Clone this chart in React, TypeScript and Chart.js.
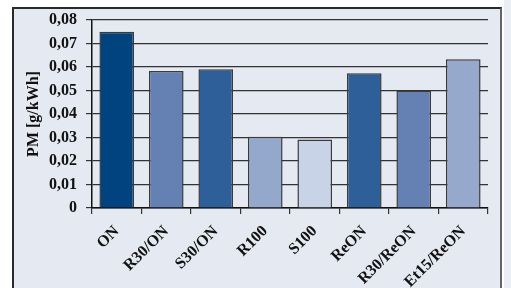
import React, { useEffect, useRef } from "react";
import { Chart, registerables } from "chart.js";

Chart.register(...registerables);

const categories = ["ON", "R30/ON", "S30/ON", "R100", "S100", "ReON", "R30/ReON", "Et15/ReON"];
const pmValues = [0.075, 0.0583, 0.059, 0.0303, 0.0292, 0.0573, 0.05, 0.0633];
const barColors = ["#00437f", "#6581b4", "#2f5f98", "#94a8cc", "#c9d3e7", "#2f5f98", "#6581b4", "#96a9cd"];
const yTitle = "PM [g/kWh]";

export default function App() {
  const ref = useRef<HTMLCanvasElement | null>(null);
  useEffect(() => {
    if (!ref.current) return;
    const font = "'Liberation Serif', 'Times New Roman', serif";
    const chart = new Chart(ref.current, {
      type: "bar",
      data: {
        labels: categories,
        datasets: [
          {
            data: pmValues,
            backgroundColor: barColors,
            borderColor: "#3a3a3a",
            borderWidth: 1.5,
            barPercentage: 0.7,
            categoryPercentage: 1,
          },
        ],
      },
      options: {
        animation: false,
        responsive: false,
        maintainAspectRatio: false,
        layout: { padding: { left: 0, right: 23, top: 20, bottom: 0 } },
        plugins: { legend: { display: false }, tooltip: { enabled: false } },
        scales: {
          x: {
            grid: {
              offset: true,
              drawOnChartArea: true,
              color: (c: any) => (c.index === categories.length ? "#333" : "rgba(0,0,0,0)"),
              tickColor: "#333",
              tickLength: 6,
              lineWidth: 1.2,
            },
            border: { display: true, color: "#111", width: 1.5 },
            ticks: {
              color: "#111",
              font: { family: font, size: 16, weight: "bold" },
              minRotation: 45,
              maxRotation: 45,
              padding: 8,
              autoSkip: false,
            },
            afterFit: (s: any) => {
              s.height = 80;
            },
          },
          y: {
            min: 0,
            max: 0.08,
            ticks: {
              stepSize: 0.01,
              color: "#111",
              padding: 9,
              font: { family: font, size: 16, weight: "bold" },
              callback: (v: any) => (Number(v) === 0 ? "0" : Number(v).toFixed(2).replace(".", ",")),
            },
            grid: { color: "#333", lineWidth: 1.2, tickLength: 6, tickColor: "#333" },
            border: { display: true, color: "#111", width: 1.5 },
            title: {
              display: true,
              text: yTitle,
              color: "#111",
              font: { family: font, size: 16, weight: "bold" },
              padding: { top: 24, bottom: 0 },
            },
            afterFit: (s: any) => {
              s.width = 92;
            },
          },
        },
      },
    });
    return () => chart.destroy();
  }, []);
  return (
    <div style={{ position: "fixed", left: 0, top: 0, width: 511, height: 288, background: "#ffffff", overflow: "hidden" }}>
      <div
        style={{
          position: "absolute",
          left: 12,
          top: 7,
          width: 490,
          height: 300,
          background: "#e5e9f2",
          borderLeft: "2px solid #2a2a2a",
          borderTop: "2px solid #2a2a2a",
          borderRight: "2px solid #666",
          boxSizing: "border-box",
        }}
      />
      <div style={{ position: "absolute", left: 504, top: 0, width: 7, height: 288, background: "#eceef5" }} />
      <canvas ref={ref} width={511} height={288} style={{ position: "absolute", left: 0, top: 0 }} />
    </div>
  );
}
